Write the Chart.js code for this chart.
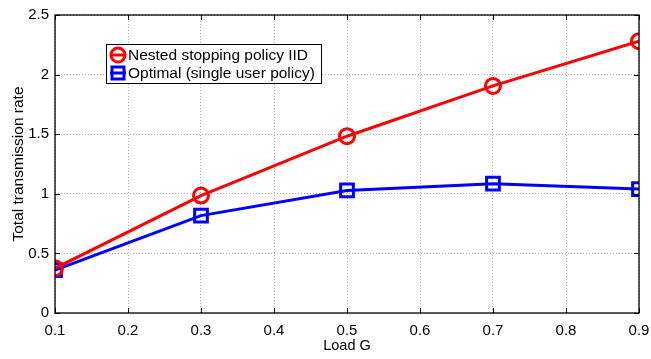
<!DOCTYPE html>
<html><head><meta charset="utf-8">
<script src="https://cdn.jsdelivr.net/npm/chart.js@4"></script>
<style>html,body{margin:0;padding:0;background:#fff}#wrap{width:651px;height:359px}</style>
</head><body><div id="wrap"><canvas id="c" width="651" height="359"></canvas></div>
<script>
const loads = [0.1, 0.3, 0.5, 0.7, 0.9];
const nestedIID = [0.375, 0.985, 1.483, 1.905, 2.28];
const optimalSingle = [0.36, 0.817, 1.028, 1.085, 1.04];
const seriesLabels = ['Nested stopping policy IID', 'Optimal (single user policy)'];
const xTicks = [0.1, 0.2, 0.3, 0.4, 0.5, 0.6, 0.7, 0.8, 0.9];
const yTicks = [0, 0.5, 1, 1.5, 2, 2.5];
const FONT = 'Liberation Sans, Arial, Helvetica, sans-serif';

const boxPlugin = {
  id: 'box',
  afterDraw(chart) {
    const {ctx, chartArea: a, scales: {x, y}} = chart;
    ctx.save();
    ctx.strokeStyle = '#000'; ctx.lineWidth = 1.3;
    ctx.strokeRect(a.left, a.top, a.right - a.left, a.bottom - a.top);
    ctx.lineWidth = 1;
    const L = 5;
    xTicks.forEach(v => { const px = Math.round(x.getPixelForValue(v)) + 0.5;
      ctx.beginPath(); ctx.moveTo(px, a.bottom); ctx.lineTo(px, a.bottom - L);
      ctx.moveTo(px, a.top); ctx.lineTo(px, a.top + L); ctx.stroke(); });
    yTicks.forEach(v => { const py = Math.round(y.getPixelForValue(v)) + 0.5;
      ctx.beginPath(); ctx.moveTo(a.left, py); ctx.lineTo(a.left + L, py);
      ctx.moveTo(a.right, py); ctx.lineTo(a.right - L, py); ctx.stroke(); });
    // legend
    const lx = 106, ly = 44, lw = 215, lh = 39;
    ctx.fillStyle = '#fff'; ctx.fillRect(lx, ly, lw, lh);
    ctx.strokeStyle = '#000'; ctx.lineWidth = 1; ctx.strokeRect(lx + 0.5, ly + 0.5, lw, lh);
    ctx.font = '15.5px ' + FONT; ctx.textBaseline = 'middle'; ctx.textAlign = 'left';
    chart.data.datasets.forEach((ds, i) => {
      const cy = ly + 11 + i * 18, cx = lx + 12;
      ctx.strokeStyle = ds.borderColor; ctx.lineWidth = 3;
      ctx.beginPath(); ctx.moveTo(cx - 8, cy); ctx.lineTo(cx + 8, cy); ctx.stroke();
      ctx.beginPath();
      if (ds.pointStyle === 'circle') ctx.arc(cx, cy, 7, 0, Math.PI * 2);
      else ctx.rect(cx - 6, cy - 6, 12, 12);
      ctx.stroke();
      ctx.fillStyle = '#000'; ctx.fillText(ds.label, lx + 22, cy + 1);
    });
    ctx.restore();
  }
};

new Chart(document.getElementById('c'), {
  type: 'line',
  data: {
    datasets: [
      { label: seriesLabels[0], data: loads.map((v, i) => ({x: v, y: nestedIID[i]})),
        borderColor: '#ff0000', backgroundColor: 'rgba(0,0,0,0)', borderWidth: 3,
        pointStyle: 'circle', pointRadius: 7.5, pointBorderWidth: 3, pointBackgroundColor: 'rgba(0,0,0,0)' },
      { label: seriesLabels[1], data: loads.map((v, i) => ({x: v, y: optimalSingle[i]})),
        borderColor: '#0000ff', backgroundColor: 'rgba(0,0,0,0)', borderWidth: 3,
        pointStyle: 'rect', pointRadius: 9, pointBorderWidth: 3, pointBackgroundColor: 'rgba(0,0,0,0)' }
    ]
  },
  options: {
    responsive: false, animation: false, devicePixelRatio: 1,
    layout: { padding: { top: 13, right: 0, left: 0, bottom: 0 } },
    plugins: { legend: { display: false }, tooltip: { enabled: false } },
    scales: {
      x: {
        type: 'linear', min: 0.1, max: 0.9,
        afterBuildTicks(s) { s.ticks = xTicks.map(v => ({value: v})); },
        afterFit(s) { s.height = 46; s.paddingRight = 10; s.paddingLeft = 0; },
        ticks: { color: '#000', font: { family: FONT, size: 15 }, padding: 9,
          callback: v => String(v), maxRotation: 0 },
        grid: { color: '#b4b4b4', lineWidth: 1, drawTicks: false },
        border: { display: false, dash: [1, 2] },
        title: { display: true, text: 'Load G', color: '#000', font: { family: FONT, size: 14.5 }, padding: { top: 4 } }
      },
      y: {
        type: 'linear', min: 0, max: 2.5,
        afterBuildTicks(s) { s.ticks = yTicks.map(v => ({value: v})); },
        afterFit(s) { s.width = 55; },
        ticks: { color: '#000', font: { family: FONT, size: 15 }, padding: 6,
          callback: v => String(v) },
        grid: { color: '#b4b4b4', lineWidth: 1, drawTicks: false },
        border: { display: false, dash: [1, 2] },
        title: { display: true, text: 'Total transmission rate', color: '#000', font: { family: FONT, size: 15.5 }, padding: { top: 9, bottom: 0 } }
      }
    }
  },
  plugins: [boxPlugin]
});
</script></body></html>
